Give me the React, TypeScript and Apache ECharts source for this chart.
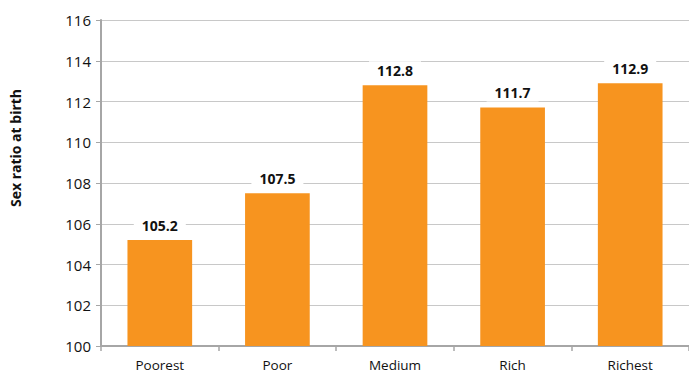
import React, { useEffect, useRef } from "react";
import * as echarts from "echarts";

const categories = ["Poorest", "Poor", "Medium", "Rich", "Richest"];
const values = [105.2, 107.5, 112.8, 111.7, 112.9];
const yMin = 100;
const yMax = 116;
const yInterval = 2;
const yTitle = "Sex ratio at birth";

export default function App() {
  const ref = useRef<HTMLDivElement>(null);
  useEffect(() => {
    const chart = echarts.init(ref.current!, null, { renderer: "svg" });
    chart.setOption({
      animation: false,
      textStyle: { fontFamily: "Open Sans" },
      grid: { left: 101, right: 0, top: 20, bottom: 29 },
      graphic: [
        {
          type: "text",
          x: 15,
          y: 148,
          rotation: Math.PI / 2,
          style: {
            text: yTitle,
            fontFamily: "Open Sans",
            fontWeight: "bold",
            fontSize: 14,
            fill: "#111",
            align: "center",
            verticalAlign: "middle",
          },
        },
      ],
      xAxis: {
        type: "category",
        data: categories,
        axisLine: { lineStyle: { color: "#A6A6A6", width: 2 } },
        axisTick: { show: true, length: 5, lineStyle: { color: "#A6A6A6", width: 1.5 } },
        axisLabel: { color: "#111", fontSize: 13.5, margin: 12 },
      },
      yAxis: {
        type: "value",
        min: yMin,
        max: yMax,
        interval: yInterval,
        axisLine: { show: true, lineStyle: { color: "#A6A6A6", width: 2 } },
        axisTick: { show: true, length: 5, lineStyle: { color: "#A6A6A6" } },
        axisLabel: { color: "#111", fontSize: 15, margin: 10 },
        splitLine: { lineStyle: { color: "#C8C8C8", width: 1 } },
      },
      series: [
        {
          type: "bar",
          data: values,
          barCategoryGap: "45%",
          itemStyle: { color: "#F7941F" },
          label: {
            show: true,
            position: "top",
            distance: 6,
            fontWeight: "bold",
            fontSize: 14,
            color: "#111",
            backgroundColor: "#fff",
            padding: [2, 8],
            formatter: (p: any) => p.value.toFixed(1),
          },
        },
      ],
    });
    return () => chart.dispose();
  }, []);
  return <div ref={ref} style={{ width: 689, height: 375, position: "absolute", left: 0, top: 0 }} />;
}
